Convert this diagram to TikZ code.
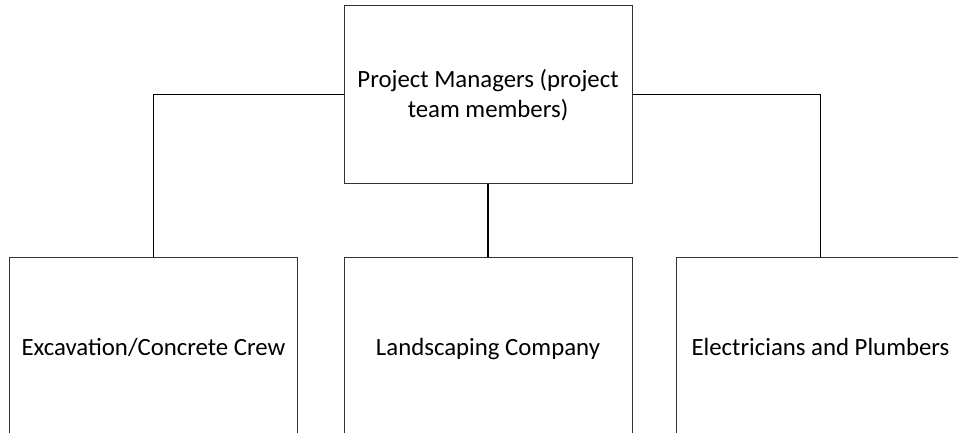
\documentclass[tikz,border=0pt]{standalone}
\usepackage{fontspec}
\setmainfont{Carlito}
% struts that fix where the text baselines sit inside the boxes
\newcommand{\topstrut}{\rule{0pt}{24pt}}
\newcommand{\botstrut}{\rule[-7pt]{0pt}{7pt}}
\newcommand{\rowstrut}{\rule[-6pt]{0pt}{30pt}}
\begin{document}
\begin{tikzpicture}[x=1pt,y=-1pt,
  orgbox/.style={draw=black!80, line width=1pt, rectangle, inner sep=0pt,
    minimum width=288pt, minimum height=178pt, align=center,
    font=\fontsize{24.8}{30}\selectfont},
  link/.style={draw=black, line width=1.3pt}]
  \useasboundingbox (0,0) rectangle (958,433);
  \clip (0,0) rectangle (958,433);
  % manager box
  \node[orgbox] (pm) at (488,94.5) {\topstrut Project Managers (project\\team members)\botstrut};
  % crews (boxes run past the lower edge)
  \node[orgbox] (exc) at (153.5,346) {\rowstrut Excavation/Concrete Crew};
  \node[orgbox] (land) at (488,346) {\rowstrut Landscaping Company};
  \node[orgbox] (elec) at (820.5,346) {\rowstrut Electricians and Plumbers};
  % reporting lines
  \draw[link] (pm.west) -| (exc.north);
  \draw[link] (pm.south) -- (land.north);
  \draw[link] (pm.east) -| (elec.north);
\end{tikzpicture}
\end{document}
